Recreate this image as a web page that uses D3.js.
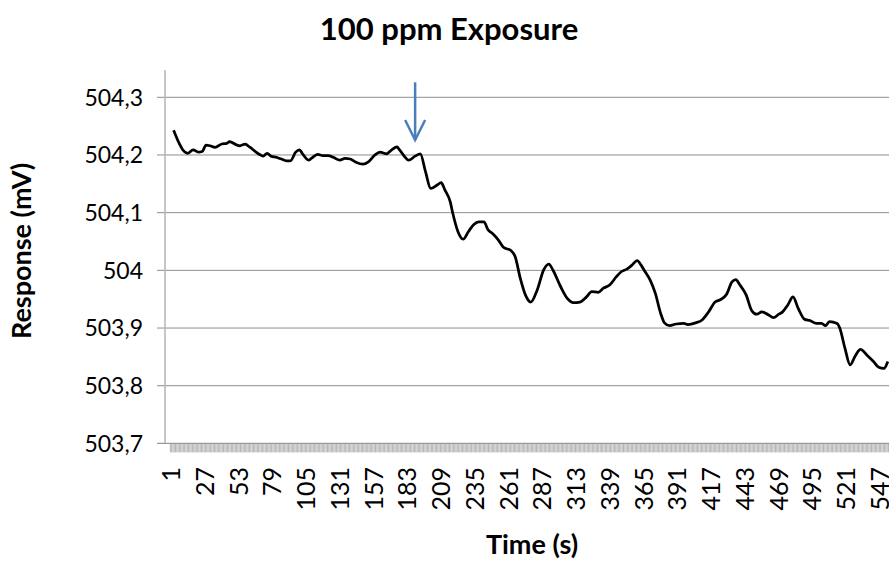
<!DOCTYPE html>
<html>
<head>
<meta charset="utf-8">
<title>100 ppm Exposure</title>
<script src="https://unpkg.com/d3@7/dist/d3.min.js"></script>
<style>
  body { margin: 0; background: #fff; }
  text { font-family: Lato, "Open Sans", sans-serif; fill: #000; }
  .title, .axis-title { font-weight: bold; }
</style>
</head>
<body>
<div id="chart"></div>
<script>
// sampled points of the response curve (time in s, response in mV)
const times = [
  3, 8, 10, 14, 18, 22, 25, 28, 31, 35,
  40, 44, 46, 52, 54, 58, 62, 66, 70, 72,
  75, 78, 82, 86, 90, 93, 97, 100, 102, 107,
  109, 114, 118, 122, 126, 131, 135, 139, 143, 149,
  153, 158, 162, 167, 171, 175, 177, 181, 184, 189,
  193, 197, 201, 206, 209, 212, 216, 218, 222, 226,
  230, 234, 238, 242, 245, 249, 253, 257, 263, 266,
  270, 274, 278, 283, 288, 292, 295, 301, 306, 311,
  316, 321, 325, 330, 334, 339, 344, 348, 352, 356,
  360, 363, 366, 370, 374, 378, 381, 385, 390, 396,
  399, 405, 410, 415, 420, 424, 429, 433, 436, 439,
  444, 448, 452, 456, 461, 465, 469, 472, 476, 480,
  484, 489, 493, 498, 502, 505, 508, 514, 516, 520,
  524, 528, 532, 537, 542, 546, 550, 553
];
const response = [
  504.243, 504.217, 504.209, 504.203, 504.209, 504.205, 504.206, 504.217, 504.216, 504.213,
  504.219, 504.220, 504.223, 504.217, 504.216, 504.219, 504.213, 504.206, 504.200, 504.198,
  504.203, 504.198, 504.196, 504.193, 504.190, 504.190, 504.205, 504.209, 504.203, 504.191,
  504.194, 504.201, 504.199, 504.199, 504.196, 504.191, 504.194, 504.193, 504.188, 504.184,
  504.188, 504.200, 504.205, 504.202, 504.209, 504.214, 504.209, 504.197, 504.191, 504.198,
  504.202, 504.171, 504.142, 504.148, 504.152, 504.139, 504.119, 504.099, 504.067, 504.054,
  504.067, 504.079, 504.084, 504.084, 504.071, 504.063, 504.053, 504.040, 504.034, 504.024,
  503.986, 503.957, 503.945, 503.966, 504.001, 504.011, 504.001, 503.972, 503.952, 503.944,
  503.945, 503.954, 503.963, 503.962, 503.969, 503.975, 503.989, 503.998, 504.002, 504.009,
  504.017, 504.009, 503.998, 503.983, 503.960, 503.926, 503.909, 503.904, 503.907, 503.908,
  503.906, 503.909, 503.914, 503.928, 503.945, 503.949, 503.959, 503.980, 503.984, 503.975,
  503.957, 503.931, 503.924, 503.928, 503.923, 503.918, 503.924, 503.928, 503.940, 503.954,
  503.934, 503.915, 503.913, 503.908, 503.908, 503.904, 503.911, 503.908, 503.900, 503.865,
  503.836, 503.852, 503.863, 503.853, 503.842, 503.832, 503.830, 503.842
];

const yTicks = [503.7, 503.8, 503.9, 504, 504.1, 504.2, 504.3];
const xTickLabels = [1, 27, 53, 79, 105, 131, 157, 183, 209, 235, 261, 287, 313, 339, 365, 391, 417, 443, 469, 495, 521, 547];
const lastCategory = 560;

// exposure marker
const arrowTime = 189;
const arrowFrom = 504.326, arrowTo = 504.226;

const width = 889, height = 561;
const plot = {left: 165, top: 70, right: 889, bottom: 443.4};

const svg = d3.select("#chart").append("svg")
    .attr("width", width)
    .attr("height", height);

const x = d3.scaleLinear().domain([1, 547]).range([171, 880]);
const y = d3.scaleLinear().domain([503.7, 504.3]).range([plot.bottom, 97.3]);

svg.append("defs").append("clipPath").attr("id", "clip")
  .append("rect")
    .attr("x", plot.left).attr("y", plot.top)
    .attr("width", plot.right - plot.left).attr("height", plot.bottom - plot.top);

// gridlines
svg.append("g")
  .selectAll("line")
  .data(yTicks.filter(d => d > 503.7))
  .join("line")
    .attr("x1", plot.left - 8).attr("x2", plot.right)
    .attr("y1", d => y(d)).attr("y2", d => y(d))
    .attr("stroke", "#8f8f8f")
    .attr("stroke-width", 1);

// y axis line + labels
svg.append("line")
    .attr("x1", plot.left).attr("x2", plot.left)
    .attr("y1", plot.top).attr("y2", plot.bottom)
    .attr("stroke", "#b5b5b5").attr("stroke-width", 1.5);

svg.append("g")
  .selectAll("text")
  .data(yTicks)
  .join("text")
    .attr("x", 143)
    .attr("y", d => y(d))
    .attr("dy", "0.36em")
    .attr("text-anchor", "end")
    .style("font-size", "23px")
    .text(d => d3.format(".1f")(d).replace(/\.0$/, "").replace(".", ","));

// x axis: one tick per category boundary
svg.append("g")
  .selectAll("line")
  .data(d3.range(0, lastCategory))
  .join("line")
    .attr("x1", d => x(d + 0.5)).attr("x2", d => x(d + 0.5))
    .attr("y1", plot.bottom).attr("y2", plot.bottom + 9)
    .attr("stroke", "#a3a3a3")
    .attr("stroke-width", 0.8);

svg.append("line")
    .attr("x1", plot.left - 8).attr("x2", plot.right)
    .attr("y1", plot.bottom).attr("y2", plot.bottom)
    .attr("stroke", "#9a9a9a").attr("stroke-width", 1.2);

svg.append("g")
  .selectAll("text")
  .data(xTickLabels)
  .join("text")
    .attr("transform", d => `translate(${x(d)},467) rotate(-90)`)
    .attr("dy", "0.36em")
    .attr("text-anchor", "end")
    .style("font-size", "25px")
    .text(d => d);

// the curve
const line = d3.line()
    .x((d, i) => x(times[i]))
    .y(d => y(d))
    .curve(d3.curveMonotoneX);

svg.append("path")
    .datum(response)
    .attr("clip-path", "url(#clip)")
    .attr("fill", "none")
    .attr("stroke", "#000")
    .attr("stroke-width", 2.75)
    .attr("stroke-linejoin", "round")
    .attr("d", line);

// arrow
const arrowG = svg.append("g")
    .attr("stroke", "#4a7ebb")
    .attr("stroke-width", 2.5)
    .attr("fill", "none");
arrowG.append("line")
    .attr("x1", x(arrowTime)).attr("x2", x(arrowTime))
    .attr("y1", y(arrowFrom)).attr("y2", y(arrowTo));
arrowG.append("path")
    .attr("d", `M${x(arrowTime) - 10},${y(arrowTo) - 20}L${x(arrowTime)},${y(arrowTo)}L${x(arrowTime) + 10},${y(arrowTo) - 20}`);

// titles
svg.append("text")
    .attr("class", "title")
    .attr("x", 449).attr("y", 40)
    .attr("text-anchor", "middle")
    .style("font-size", "31px")
    .text("100 ppm Exposure");

svg.append("text")
    .attr("class", "axis-title")
    .attr("transform", "translate(31,251) rotate(-90)")
    .attr("text-anchor", "middle")
    .style("font-size", "27px")
    .text("Response (mV)");

svg.append("text")
    .attr("class", "axis-title")
    .attr("x", 532).attr("y", 554)
    .attr("text-anchor", "middle")
    .style("font-size", "27px")
    .text("Time (s)");
</script>
</body>
</html>
